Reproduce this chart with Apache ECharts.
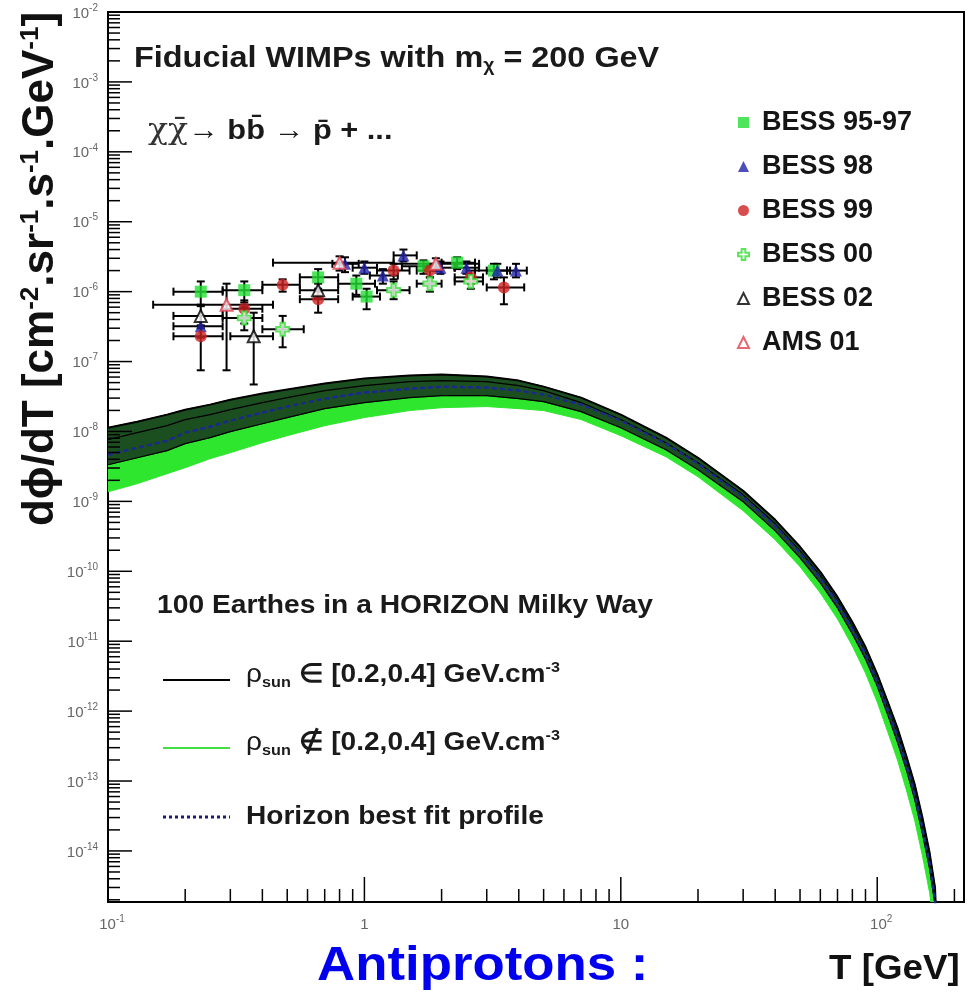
<!DOCTYPE html>
<html><head><meta charset="utf-8">
<script src="https://cdn.jsdelivr.net/npm/echarts/dist/echarts.min.js"></script>
<style>html,body{margin:0;padding:0;background:#fff}#c{width:976px;height:999px}</style>
</head><body><div id="c"></div>
<script>
// ---------------- data ----------------
const T        = [0.1,0.13,0.17,0.2,0.25,0.3,0.4,0.5,0.7,1,1.5,2,3,4,5,7,10,15,20,30,40,50,60,70,80,90,100,110,120,130,140,150,160,168,175];
const blackTop = [1.13e-8,1.38e-8,1.74e-8,2.05e-8,2.42e-8,2.85e-8,3.48e-8,3.97e-8,4.84e-8,5.71e-8,6.30e-8,6.51e-8,6.10e-8,5.34e-8,4.38e-8,3.05e-8,1.74e-8,8.15e-9,4.21e-9,1.42e-9,5.45e-10,2.24e-10,9.80e-11,4.30e-11,1.88e-11,8.25e-12,3.39e-12,1.35e-12,5.70e-13,2.26e-13,8.99e-14,3.03e-14,9.54e-15,3.01e-15,1e-16];
const blackMid = [7.63e-9,9.61e-9,1.21e-8,1.48e-8,1.74e-8,2.05e-8,2.59e-8,3.05e-8,3.84e-8,4.53e-8,5.17e-8,5.34e-8,5.17e-8,4.53e-8,3.84e-8,2.59e-8,1.48e-8,6.91e-9,3.57e-9,1.24e-9,4.78e-10,1.96e-10,8.59e-11,3.77e-11,1.65e-11,7.00e-12,2.78e-12,1.10e-12,4.68e-13,1.80e-13,7.14e-14,2.33e-14,7.33e-15,2.24e-15,1e-16];
const bestFit  = [4.65e-9,5.86e-9,7.38e-9,9.61e-9,1.17e-8,1.43e-8,1.86e-8,2.27e-8,2.95e-8,3.60e-8,4.10e-8,4.38e-8,4.24e-8,3.84e-8,3.37e-8,2.42e-8,1.43e-8,6.69e-9,3.46e-9,1.16e-9,4.47e-10,1.83e-10,8.04e-11,3.52e-11,1.50e-11,6.55e-12,2.60e-12,1.03e-12,4.24e-13,1.68e-13,6.47e-14,2.11e-14,6.64e-15,2.03e-15,1e-16];
const blackLow = [3.34e-9,4.21e-9,5.31e-9,6.69e-9,8.15e-9,9.93e-9,1.29e-8,1.58e-8,2.12e-8,2.59e-8,3.05e-8,3.26e-8,3.26e-8,2.95e-8,2.67e-8,1.92e-8,1.13e-8,5.48e-9,2.84e-9,9.87e-10,3.79e-10,1.56e-10,6.82e-11,2.99e-11,1.27e-11,5.56e-12,2.28e-12,8.76e-13,3.59e-13,1.43e-13,5.48e-14,1.79e-14,5.63e-15,1.72e-15,1e-16];
const greenLow = [1.37e-9,1.79e-9,2.49e-9,3.03e-9,4.08e-9,4.97e-9,6.91e-9,8.71e-9,1.21e-8,1.58e-8,1.99e-8,2.19e-8,2.27e-8,2.12e-8,1.99e-8,1.48e-8,8.71e-9,4.35e-9,2.25e-9,7.33e-10,2.82e-10,1.16e-10,4.90e-11,2.08e-11,8.53e-12,3.50e-12,1.35e-12,5.00e-13,1.99e-13,7.38e-14,2.74e-14,8.65e-15,2.55e-15,6.81e-16,1e-16];

// measurements: [T, flux, Tlow, Thigh, fluxLow, fluxHigh]
const bess9597 = [[0.23,1.0e-6,0.18,0.28,6.2e-7,1.4e-6],[0.34,1.05e-6,0.28,0.40,7.0e-7,1.4e-6],[0.66,1.6e-6,0.56,0.79,1.1e-6,2.1e-6],[0.93,1.3e-6,0.79,1.1,9e-7,1.7e-6],[1.02,8.5e-7,0.9,1.15,5.6e-7,1.1e-6],[1.7,2.3e-6,1.4,2.0,1.8e-6,2.8e-6],[2.3,2.6e-6,2.0,2.7,2.1e-6,3.1e-6],[3.2,2.0e-6,2.7,3.7,1.5e-6,2.5e-6]];
const bess98   = [[0.23,3.2e-7,0.18,0.28,2.2e-7,4.5e-7],[0.84,2.5e-6,0.75,0.95,1.9e-6,3.1e-6],[1.0,2.2e-6,0.9,1.12,1.8e-6,2.7e-6],[1.18,1.7e-6,1.05,1.35,1.3e-6,2.1e-6],[1.42,3.3e-6,1.3,1.6,2.7e-6,4.0e-6],[1.98,2.2e-6,1.75,2.25,1.8e-6,2.7e-6],[2.5,2.2e-6,2.25,2.8,1.8e-6,2.7e-6],[3.3,2.0e-6,3.0,3.6,1.6e-6,2.5e-6],[3.9,2.0e-6,3.6,4.3,1.6e-6,2.5e-6]];
const bess99   = [[0.23,2.3e-7,0.18,0.28,7.5e-8,3.3e-7],[0.34,5.7e-7,0.28,0.40,3.5e-7,7.5e-7],[0.48,1.25e-6,0.40,0.56,1.0e-6,1.5e-6],[0.66,7.8e-7,0.56,0.79,5.0e-7,1.0e-6],[1.3,2.0e-6,1.12,1.5,1.5e-6,2.5e-6],[1.8,2.0e-6,1.6,2.0,1.6e-6,2.5e-6],[2.6,1.6e-6,2.25,2.9,1.3e-6,2.0e-6],[3.5,1.15e-6,3.0,4.2,6.6e-7,1.6e-6]];
const bess00   = [[0.34,4.2e-7,0.28,0.40,2.8e-7,6.0e-7],[0.48,2.9e-7,0.40,0.58,1.6e-7,4.5e-7],[1.3,1.05e-6,1.12,1.5,7.8e-7,1.4e-6],[1.8,1.3e-6,1.6,2.0,1.0e-6,1.6e-6],[2.6,1.4e-6,2.25,2.9,1.1e-6,1.7e-6]];
const bess02   = [[0.23,4.5e-7,0.18,0.28,3.0e-7,6.5e-7],[0.37,2.3e-7,0.30,0.44,4.7e-8,5.0e-7],[0.66,1.05e-6,0.56,0.79,8.0e-7,1.3e-6]];
const ams01    = [[0.29,6.5e-7,0.15,0.44,7.5e-8,1.3e-6],[0.80,2.6e-6,0.44,1.3,2.0e-6,3.2e-6],[1.9,2.5e-6,1.3,2.8,2.0e-6,3.0e-6]];

// axis ticks
const X_MIN = 0.1, X_MAX = 218, Y_MIN = 1.86e-15, Y_MAX = 1e-2;
const xMajorTicks = [0.1, 1, 10, 100];
const xTickLabels = [['10','-1'],['1',''],['10',''],['10','2']];
const yMajorExp   = [-2,-3,-4,-5,-6,-7,-8,-9,-10,-11,-12,-13,-14];

// ---------------- helpers ----------------
const FONT = "'Liberation Sans', Arial, sans-serif";
const INK = '#1a1a1a';
const xMinorTicks = [];
[0.1,1,10,100].forEach(d => { for (let k = 2; k <= 9; k++) { const v = d*k; if (v <= X_MAX) xMinorTicks.push(v); } });
const yMinorTicks = [];
for (let e = -15; e <= -3; e++) { const d = Math.pow(10, e); for (let k = 2; k <= 9; k++) { const v = d*k; if (v >= Y_MIN && v <= Y_MAX) yMinorTicks.push(v); } }

const zip = arr => T.map((t, i) => [t, arr[i]]);

function tickSeries(vals, isX, len) {
  return {
    type: 'custom', coordinateSystem: 'cartesian2d', silent: true, clip: false, z: 10,
    data: vals.map(v => isX ? [v, Y_MIN] : [X_MIN, v]),
    renderItem: (p, api) => {
      const c = api.coord([api.value(0), api.value(1)]);
      const shape = isX ? {x1: c[0], y1: c[1], x2: c[0], y2: c[1] - len} : {x1: c[0], y1: c[1], x2: c[0] + len, y2: c[1]};
      return {type: 'line', shape, style: {stroke: '#000', lineWidth: 1.5}};
    }
  };
}
const labRich = {b: {fontSize: 15, fontFamily: FONT, fill: '#666', lineHeight: 18, verticalAlign: 'bottom'},
                 s: {fontSize: 10, fontFamily: FONT, fill: '#666', lineHeight: 12, verticalAlign: 'top'}};

function errSeries(data) {
  return {
    type: 'custom', coordinateSystem: 'cartesian2d', silent: true, z: 3,
    data: data,
    renderItem: (p, api) => {
      const x = api.value(0), y = api.value(1);
      const l = api.coord([api.value(2), y]), r = api.coord([api.value(3), y]);
      const lo = api.coord([x, api.value(4)]), hi = api.coord([x, api.value(5)]);
      const cap = 4, st = {stroke: '#000', lineWidth: 2};
      const L = (x1,y1,x2,y2) => ({type: 'line', shape: {x1,y1,x2,y2}, style: st});
      return {type: 'group', children: [
        L(l[0], l[1], r[0], r[1]), L(lo[0], lo[1], hi[0], hi[1]),
        L(l[0], l[1]-cap, l[0], l[1]+cap), L(r[0], r[1]-cap, r[0], r[1]+cap),
        L(lo[0]-cap, lo[1], lo[0]+cap, lo[1]), L(hi[0]-cap, hi[1], hi[0]+cap, hi[1])
      ]};
    }
  };
}

function bandSeries(upper, lower, color, z) {
  return {
    type: 'custom', coordinateSystem: 'cartesian2d', silent: true, clip: true, z: z,
    data: T.map((t, i) => [t, upper[i], lower[i]]),
    renderItem: (p, api) => {
      if (p.dataIndexInside !== 0) return null;
      const n = p.dataInsideLength, pts = [];
      for (let i = 0; i < n; i++) pts.push(api.coord([api.value(0, i), api.value(1, i)]));
      for (let i = n - 1; i >= 0; i--) pts.push(api.coord([api.value(0, i), api.value(2, i)]));
      return {type: 'polygon', shape: {points: pts}, style: {fill: color, stroke: color, lineWidth: 1}};
    }
  };
}

function curve(arr, color, width, type, z) {
  return {type: 'line', data: zip(arr), showSymbol: false, symbol: 'none', smooth: false,
          lineStyle: {color, width, type: type || 'solid'}, z: z, silent: true, clip: true, animation: false};
}

const crossPath = 'path://M-1,-3L1,-3L1,-1L3,-1L3,1L1,1L1,3L-1,3L-1,1L-3,1L-3,-1L-1,-1Z';
function pts(name, data, symbol, color, size, empty) {
  return {name, type: 'scatter', data, encode: {x: 0, y: 1}, symbol, symbolSize: size, z: 6,
          itemStyle: empty ? {color: '#fff', borderColor: color, borderWidth: 2} : {color}};
}

// stretched text helper (reference glyphs are ~8% wider than Arial)
function txt(x, y, text, rich, sx, extra) {
  return Object.assign({type: 'text', x, y, scaleX: sx, style: Object.assign({text, rich, align: 'left', verticalAlign: 'top', fill: INK}, extra || {})});
}
const bold = (fs, o) => Object.assign({fontSize: fs, fontWeight: 'bold', fontFamily: FONT, fill: INK}, o || {});
const entryRich = {r: {fontSize: 26, fontFamily: FONT, fill: INK, lineHeight: 30}, n: bold(26, {lineHeight: 30}),
                   sub: bold(15, {verticalAlign: 'bottom', lineHeight: 8}), sup: bold(15, {verticalAlign: 'top', lineHeight: 14})};

const chart = echarts.init(document.getElementById('c'), null, {renderer: 'canvas'});
const option = {
  animation: false,
  backgroundColor: '#fff',
  grid: {left: 108, right: 12, top: 12, bottom: 97, show: true, borderColor: '#000', borderWidth: 2},
  xAxis: {type: 'log', logBase: 10, min: X_MIN, max: X_MAX, axisLine: {show: false}, axisTick: {show: false}, axisLabel: {show: false}, splitLine: {show: false}},
  yAxis: {type: 'log', logBase: 10, min: Y_MIN, max: Y_MAX, axisLine: {show: false}, axisTick: {show: false}, axisLabel: {show: false}, splitLine: {show: false}},
  legend: {orient: 'vertical', left: 732, top: 104, itemWidth: 11, itemHeight: 11, itemGap: 17,
           data: ['BESS 95-97','BESS 98','BESS 99','BESS 00','BESS 02','AMS 01'],
           textStyle: {fontSize: 27, fontWeight: 'bold', color: '#151515', fontFamily: FONT, lineHeight: 26, padding: [0,0,0,8]}},
  graphic: [
    txt(134, 43, '{n|Fiducial WIMPs with m}{sub|χ}{n| = 200 GeV}', {n: bold(30, {lineHeight: 32}), sub: bold(18, {verticalAlign: 'bottom', lineHeight: 12})}, 1.08),
    txt(148, 115, '{g|χχ\u0304}{b|→ bb\u0304 → p\u0304 + ...}', {g: {fontSize: 30, fontFamily: "'DejaVu Serif', serif", fill: '#333', lineHeight: 32}, b: bold(28, {lineHeight: 32})}, 1.1),
    // bottom legend
    txt(157, 593, '{n|100 Earthes in a HORIZON Milky Way}', {n: bold(26)}, 1.085),
    {type: 'line', shape: {x1: 163, y1: 680, x2: 230, y2: 680}, style: {stroke: '#000', lineWidth: 2}},
    {type: 'line', shape: {x1: 163, y1: 748, x2: 230, y2: 748}, style: {stroke: '#44dd44', lineWidth: 2}},
    {type: 'line', shape: {x1: 163, y1: 817, x2: 230, y2: 817}, style: {stroke: '#1a1a7a', lineWidth: 3, lineDash: [3, 3]}},
    txt(246, 660, '{r|ρ}{sub|sun}{n| ∈ [0.2,0.4] GeV.cm}{sup|-3}', entryRich, 1.08),
    txt(246, 728, '{r|ρ}{sub|sun}{n| ∉ [0.2,0.4] GeV.cm}{sup|-3}', entryRich, 1.08),
    txt(246, 804, '{n|Horizon best fit profile}', {n: bold(26)}, 1.08),
    // axis titles
    {type: 'text', x: 41, y: 269, rotation: Math.PI / 2, style: {text: '{n|dϕ/dT [cm}{s|-2}{n|.sr}{s|-1}{n|.s}{s|-1}{n|.GeV}{s|-1}{n|]}', align: 'center', verticalAlign: 'middle',
      rich: {n: bold(44, {fill: '#111', lineHeight: 46}), s: bold(26, {fill: '#111', lineHeight: 26, verticalAlign: 'top'})}}},
    txt(829, 952, '{n|T [GeV]}', {n: bold(35, {fill: '#111'})}, 1.05),
    txt(317, 943, '{n|Antiprotons :}', {n: bold(48, {fill: '#0000ee'})}, 1.1)
  ],
  series: [
    bandSeries(blackTop, greenLow, '#2ee62e', 1),
    bandSeries(blackTop, blackLow, '#1c4f1f', 2),
    curve(blackLow, '#000', 1.2, 'solid', 3),
    curve(blackMid, '#000', 1.2, 'solid', 3),
    curve(blackTop, '#000', 2, 'solid', 3),
    curve(bestFit, '#1a2a8a', 2.5, [5, 3], 4),
    errSeries(bess9597), errSeries(bess98), errSeries(bess99), errSeries(bess00), errSeries(bess02), errSeries(ams01),
    pts('BESS 95-97', bess9597, 'rect', '#22dd33', 12, false),
    pts('BESS 98', bess98, 'triangle', '#2222aa', 12, false),
    pts('BESS 99', bess99, 'circle', '#cc2222', 12, false),
    pts('BESS 00', bess00, crossPath, '#33dd33', 13, true),
    pts('BESS 02', bess02, 'triangle', '#000', 12, true),
    pts('AMS 01', ams01, 'triangle', '#e04050', 12, true),
    tickSeries(xMajorTicks, true, 25), tickSeries(xMinorTicks, true, 13),
    tickSeries(yMajorExp.map(e => Math.pow(10, e)), false, 24), tickSeries(yMinorTicks, false, 12),
    { type: 'custom', coordinateSystem: 'cartesian2d', silent: true, clip: false, z: 10,
      data: xMajorTicks.map((v, i) => [v, Y_MIN, i]),
      renderItem: (p, api) => {
        const c = api.coord([api.value(0), api.value(1)]);
        const lab = xTickLabels[api.value(2)];
        return {type: 'text', x: c[0] + (lab[1] ? 4 : 0), y: c[1] + 21, style: {text: lab[1] ? `{b|${lab[0]}}{s|${lab[1]}}` : `{b|${lab[0]}}`, align: 'center', verticalAlign: 'middle', rich: labRich}};
      }},
    { type: 'custom', coordinateSystem: 'cartesian2d', silent: true, clip: false, z: 10,
      data: yMajorExp.map(e => [X_MIN, Math.pow(10, e), e]),
      renderItem: (p, api) => {
        const c = api.coord([api.value(0), api.value(1)]);
        return {type: 'text', x: c[0] - 10, y: c[1], style: {text: `{b|10}{s|${api.value(2)}}`, align: 'right', verticalAlign: 'middle', rich: labRich}};
      }}
  ]
};
chart.setOption(option);
</script></body></html>
